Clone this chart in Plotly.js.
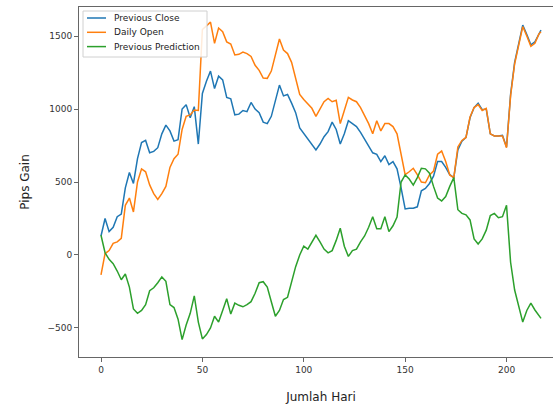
<!DOCTYPE html>
<html>
<head>
<meta charset="utf-8">
<script src="https://cdn.plot.ly/plotly-3.0.1.min.js"></script>
<style>
html,body{margin:0;padding:0;overflow:hidden;background:#fff;width:553px;height:404px;}
#chart{width:600px;height:404px;}
</style>
</head>
<body>
<div id="chart"></div>
<script>
const days = [0,2,4,6,8,10,12,14,16,18,20,22,24,26,28,30,32,34,36,38,40,42,44,46,48,50,52,54,56,58,60,62,64,66,68,70,72,74,76,78,80,82,84,86,88,90,92,94,96,98,100,102,104,106,108,110,112,114,116,118,120,122,124,126,128,130,132,134,136,138,140,142,144,146,148,150,152,154,156,158,160,162,164,166,168,170,172,174,176,178,180,182,184,186,188,190,192,194,196,198,200,202,204,206,208,210,212,214,216,217];

const previousClose = [130,250,160,190,262,280,460,565,490,660,770,785,700,710,735,830,890,850,780,790,1000,1030,940,1016,760,1107,1190,1260,1140,1225,1200,1080,1070,960,965,990,982,1045,1000,975,910,900,950,1060,1164,1090,1100,1040,975,870,833,800,760,720,760,810,845,910,860,760,830,920,900,880,840,790,742,700,690,640,680,620,640,590,460,315,320,320,330,440,456,490,540,640,640,600,550,530,720,780,805,940,1010,1039,995,1000,830,815,815,820,740,1100,1320,1460,1575,1510,1440,1461,1520,1540];

const dailyOpen = [-137,10,30,80,90,114,340,390,295,500,590,570,480,420,380,420,470,600,660,690,860,950,960,993,990,1545,1570,1595,1450,1555,1530,1460,1445,1370,1375,1390,1380,1360,1300,1265,1212,1210,1260,1380,1480,1404,1380,1320,1210,1100,1065,1035,1005,950,1000,1050,1073,1050,1060,900,990,1080,1062,1050,1010,955,900,830,920,850,900,900,880,830,680,550,570,594,550,500,495,548,575,690,712,640,548,530,740,785,805,945,1010,1030,990,1005,830,815,815,815,735,1090,1310,1450,1565,1500,1430,1450,1515,1530];

const previousPrediction = [135,15,-30,-60,-110,-170,-130,-220,-370,-400,-380,-340,-245,-225,-190,-150,-180,-340,-360,-440,-580,-480,-400,-280,-460,-575,-545,-500,-420,-460,-380,-300,-405,-330,-345,-355,-340,-320,-262,-190,-183,-220,-320,-420,-380,-305,-290,-180,-80,0,60,40,90,135,90,40,15,30,100,183,60,-10,30,40,90,130,190,262,180,180,262,160,200,260,500,548,520,479,530,594,590,560,470,390,370,400,470,530,310,285,275,240,110,75,110,170,270,285,255,262,340,-50,-240,-350,-460,-380,-330,-377,-420,-434];

const seriesNames = ["Previous Close","Daily Open","Previous Prediction"];
const colors = ["#1f77b4","#ff7f0e","#2ca02c"];
const xTicks = [0,50,100,150,200];
const yTicks = [-500,0,500,1000,1500];

const allY = [previousClose, dailyOpen, previousPrediction];
const traces = allY.map((ys,i)=>({
  x: days, y: ys, type:"scatter", mode:"lines", name: seriesNames[i],
  line:{color:colors[i], width:1.5}, showlegend:false
}));

// plot-area geometry (pixels) for the hand-built matplotlib-style legend
const PL = 79, PW = 484, PT = 7, PH = 350;
const px2x = p => (p - PL) / PW;
const px2y = p => (PT + PH - p) / PH;

const shapes = [{
  type:"rect", xref:"paper", yref:"paper",
  x0:px2x(83), x1:px2x(207), y0:px2y(57), y1:px2y(11),
  line:{color:"#d0d0d0", width:1}, fillcolor:"rgba(255,255,255,0.85)", layer:"above"
}];
const annotations = [];
seriesNames.forEach((name,i)=>{
  const rowY = 18 + i*14.3;
  shapes.push({type:"line", xref:"paper", yref:"paper",
    x0:px2x(87), x1:px2x(106), y0:px2y(rowY), y1:px2y(rowY),
    line:{color:colors[i], width:1.5}, layer:"above"});
  annotations.push({xref:"paper", yref:"paper", x:px2x(112), y:px2y(rowY),
    xanchor:"left", yanchor:"middle", showarrow:false, text:name,
    font:{family:"DejaVu Sans", size:9, color:"#222"}});
});

const axisBase = {
  showline:true, mirror:true, linecolor:"#666", linewidth:1,
  ticks:"outside", ticklen:4, tickcolor:"#666", tickwidth:1,
  showgrid:false, zeroline:false,
  tickfont:{family:"DejaVu Sans", size:9, color:"#333"}
};

const layout = {
  width:600, height:404,
  margin:{l:79, r:37, t:7, b:47},
  paper_bgcolor:"#fff", plot_bgcolor:"#fff",
  font:{family:"DejaVu Sans"},
  showlegend:false,
  shapes: shapes,
  annotations: annotations,
  xaxis:Object.assign({}, axisBase, {range:[-10.85,227.85], tickvals:xTicks,
    title:{text:"Jumlah Hari", font:{family:"DejaVu Sans", size:12, color:"#222"}, standoff:18}}),
  yaxis:Object.assign({}, axisBase, {range:[-699,1699], tickvals:yTicks,
    title:{text:"Pips Gain", font:{family:"DejaVu Sans", size:12, color:"#222"}, standoff:15}})
};

Plotly.newPlot("chart", traces, layout, {displayModeBar:false, staticPlot:true});
</script>
</body>
</html>
